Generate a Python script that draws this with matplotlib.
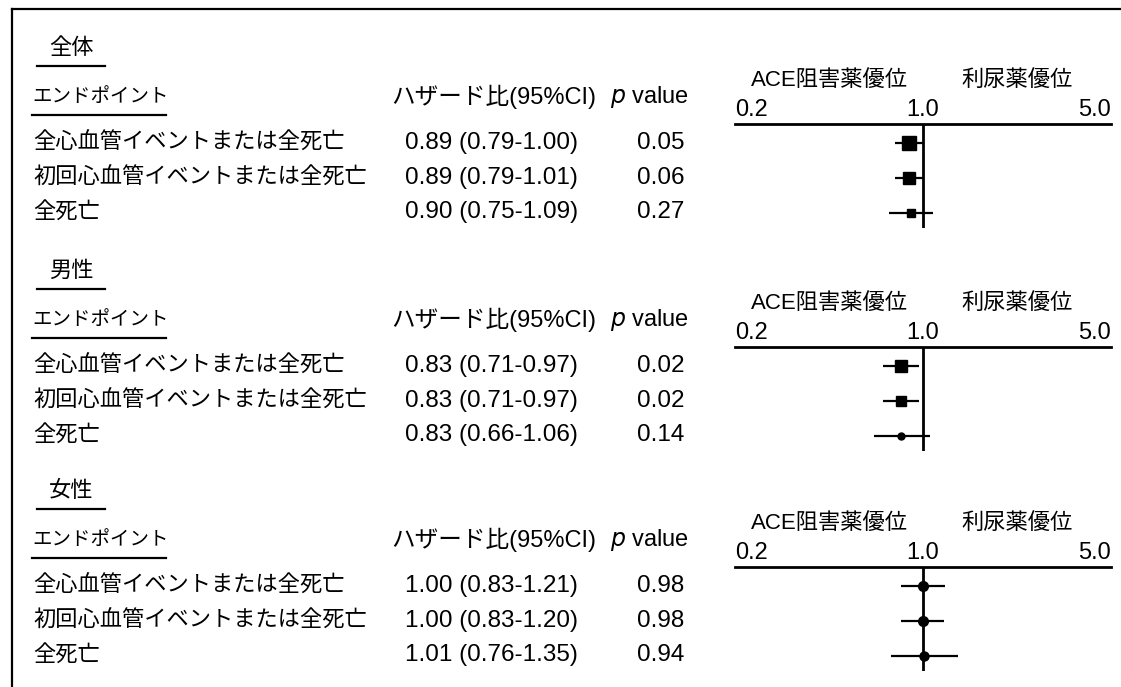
import matplotlib
matplotlib.use("Agg")
import matplotlib.pyplot as plt
from matplotlib.ticker import NullLocator

plt.rcParams['font.family'] = ['Liberation Sans', 'Noto Sans CJK JP', 'DejaVu Sans']

# data
groups = ['全体', '男性', '女性']
endpoints = ['全心血管イベントまたは全死亡', '初回心血管イベントまたは全死亡', '全死亡']
hr = [[0.89, 0.89, 0.90], [0.83, 0.83, 0.83], [1.00, 1.00, 1.01]]
ci_low = [[0.79, 0.79, 0.75], [0.71, 0.71, 0.66], [0.83, 0.83, 0.76]]
ci_high = [[1.00, 1.01, 1.09], [0.97, 0.97, 1.06], [1.21, 1.20, 1.35]]
p_values = [[0.05, 0.06, 0.27], [0.02, 0.02, 0.14], [0.98, 0.98, 0.94]]
ticks = [0.2, 1.0, 5.0]
tick_labels = ['0.2', '1.0', '5.0']

# marker look per row (style only)
marker_shape = [['s', 's', 's'], ['s', 's', 'o'], ['o', 'o', 'o']]
marker_size = [[10.5, 9, 6], [8, 6.5, 5], [7, 7, 6.5]]

W, H = 1121, 687
fig = plt.figure(figsize=(W / 100, H / 100), dpi=100)
fig.patch.set_facecolor('white')

# full-figure axes in pixel coords for the table text
bg = fig.add_axes([0, 0, 1, 1])
bg.set_xlim(0, W)
bg.set_ylim(H, 0)
bg.axis('off')

# frame of the scanned table
bg.plot([12, W], [9, 9], color='black', lw=1.6)
bg.plot([12, 12], [9, H], color='black', lw=1.6)

axis_y = [124, 347, 567]
row_dy = [19, 54, 88]
jp_size = 16
num_size = 17.5

for g, ay in enumerate(axis_y):
    # group title with underline
    bg.text(49, ay - 76, groups[g], fontsize=jp_size, va='center', ha='left')
    bg.plot([37, 105], [ay - 58, ay - 58], color='black', lw=1.6)

    # column headers
    bg.text(32, ay - 27, 'エンドポイント', fontsize=14, va='center', ha='left')
    bg.plot([32, 166], [ay - 9, ay - 9], color='black', lw=1.6)
    bg.text(391, ay - 27, 'ハザード比(95%CI)', fontsize=17, va='center', ha='left')
    bg.text(610, ay - 27, '$\\it{p}$ value', fontsize=17, va='center', ha='left')

    # favour labels
    bg.text(829, ay - 44, 'ACE阻害薬優位', fontsize=jp_size, va='center', ha='center')
    bg.text(1017, ay - 44, '利尿薬優位', fontsize=jp_size, va='center', ha='center')

    for i in range(3):
        y = ay + row_dy[i]
        bg.text(33, y, endpoints[i], fontsize=jp_size, va='center', ha='left')
        bg.text(405, y, f'{hr[g][i]:.2f} ({ci_low[g][i]:.2f}-{ci_high[g][i]:.2f})',
                fontsize=num_size, va='center', ha='left')
        bg.text(637, y, f'{p_values[g][i]:.2f}', fontsize=num_size, va='center', ha='left')

    # forest plot panel
    top, bottom = ay, ay + 104
    ax = fig.add_axes([735 / W, 1 - bottom / H, 376 / W, (bottom - top) / H])
    ax.set_xscale('log')
    ax.set_xlim(0.2, 5.0)
    rows = [0, 1, 2]
    ax.set_ylim((bottom - ay - row_dy[0]) / 35.0, -(row_dy[0]) / 35.0)
    ax.patch.set_alpha(0)
    for s in ['left', 'right', 'bottom']:
        ax.spines[s].set_visible(False)
    ax.spines['top'].set_linewidth(2)
    ax.axvline(1.0, color='black', lw=2)
    for i in rows:
        ax.plot([ci_low[g][i], ci_high[g][i]], [i, i], color='black', lw=1.6,
                solid_capstyle='butt')
        ax.plot(hr[g][i], i, marker=marker_shape[g][i], ms=marker_size[g][i],
                color='black', mec='black')
    ax.xaxis.tick_top()
    ax.set_xticks(ticks)
    ax.set_xticklabels(tick_labels)
    ax.xaxis.set_minor_locator(NullLocator())
    ax.tick_params(axis='x', length=0, pad=2, labelsize=17)
    for lab, ha in zip(ax.get_xticklabels(), ['left', 'center', 'right']):
        lab.set_ha(ha)
    ax.set_yticks([])

fig.savefig('out.png', dpi=100)
